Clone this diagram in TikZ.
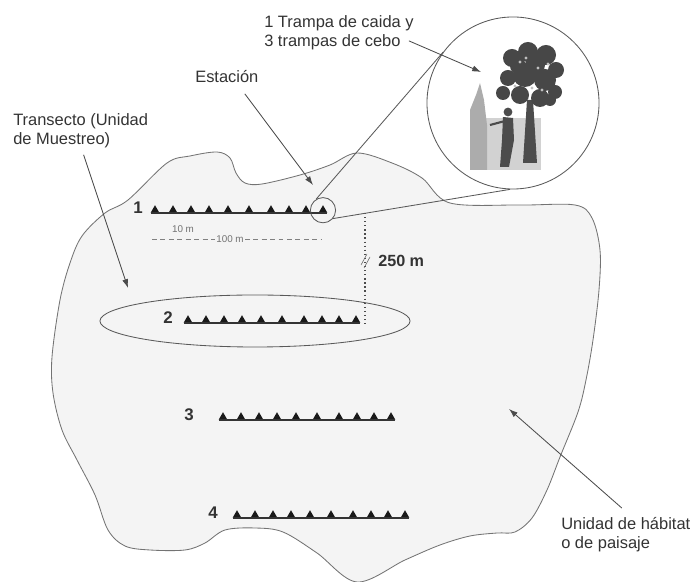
\documentclass[tikz,border=0pt]{standalone}
\usepackage{fontspec}
\setmainfont{Liberation Sans}
\usetikzlibrary{calc, arrows.meta, shapes.geometric}
\tikzstyle{txt} = [inner sep=0pt, anchor=north west, align=left, text=black!80, font=\fontsize{11.7}{13.5}\selectfont]
\tikzstyle{arr} = [draw=black!70, line width=0.6pt, -{Latex[length=2.2mm, width=1.5mm]}]
\tikzstyle{trap} = [regular polygon, regular polygon sides=3, fill=black!90, inner sep=0pt, minimum size=2.5mm, anchor=side 2]
\tikzstyle{num} = [inner sep=0pt, anchor=base east, text=black!80, font=\fontsize{12}{14}\selectfont\bfseries]
\tikzstyle{ring} = [draw=black!65, line width=0.6pt, circle, inner sep=0pt]
\tikzstyle{medida} = [inner sep=1pt, text=black!55, font=\fontsize{7}{8}\selectfont]

\begin{document}
\begin{tikzpicture}[x=0.025cm, y=-0.025cm]
    \useasboundingbox (0,0) rectangle (693,582);

    % habitat patch
    \filldraw[fill=gray!9, draw=black!55, line width=0.6pt] plot[smooth cycle, tension=0.55] coordinates {
        (128,200) (167,163) (190,156) (217,152) (230,158) (236,173) (245,183) (262,184)
        (300,175) (330,165) (357,153) (392,163) (422,178) (450,203) (520,205) (575,205)
        (592,218) (600,250) (599,290) (593,340) (586,380) (578,412) (560,457) (547,490)
        (532,518) (515,532) (497,533) (470,536) (440,545) (405,560) (357,582) (317,553)
        (283,532) (255,528) (225,530) (205,543) (185,550) (150,550) (125,546) (108,530)
        (95,495) (77,460) (62,430) (53,393) (52,357) (60,300) (70,263) (82,236) (105,213)};

    % transects and stations
    \foreach \n/\x/\y/\l in {1/155/213/143, 2/188/323/173, 3/223/420/194, 4/237/518/218} {
        \foreach \k/\d in {1/0, 2/18, 3/36, 4/54, 5/73, 6/94, 7/116, 8/134, 9/151, 10/168}
        \node[trap] (t\n-\k) at (\x+\d, \y) {};
        \draw[black!80, line width=0.8pt] ([xshift=-1mm]t\n-1.side 2) -- ([xshift=1mm]t\n-10.side 2);
        \node[num] (n\n) at (\l, \y+1) {\n};
    }

    \node[draw=black!65, line width=0.6pt, ellipse, minimum width=7.75cm, minimum height=1.3cm] (elipse) at (255,321) {};

    % distances
    \draw[black!50, dash pattern=on 3.5pt off 2.5pt] (152,239) -- (322,239);
    \node[medida, fill=gray!9] (d100) at (230,239) {100 m};
    \node[medida] (d10) at (183,229) {10 m};
    \draw[dotted, black!70, line width=0.9pt] (365,213) -- (365,325);
    \draw[black!60] (361,265) -- (367,254) (364,268) -- (370,257);
    \node[inner sep=0pt, anchor=west, text=black!80, font=\fontsize{11.5}{13}\selectfont\bfseries] (d250) at (378,261) {250 m};

    % zoom on one station
    \node[ring, minimum size=6.3mm] (lupa) at (t1-10.center) {};
    \node[ring, minimum size=4.3cm] (vista) at (513,103) {};
    \draw[black!65, line width=0.6pt] (lupa.122) -- (vista.144);
    \draw[black!65, line width=0.6pt] (lupa.-40) -- (vista.268);

    \begin{scope}
        \fill[gray!35] (470,118) rectangle (541,170);
        \fill[gray!65] (470,170) -- (470,110) -- (476,95) -- (480,83) -- (484,100) -- (487,125) -- (487,170) -- cycle;
        \fill[black!70] (527,100) -- (533,100) -- (537,163) -- (523,163) -- cycle;
        \foreach \cx/\cy/\r in {512/58/9, 528/52/10, 546/55/10, 556/70/8, 545/80/11, 525/75/12,
                                508/78/8, 503/93/7, 520/95/9, 540/98/9, 555/92/7, 535/65/10,
                                518/66/8, 550/100/6}
        \fill[black!72] (\cx,\cy) circle[radius=\r*0.25mm];
        \foreach \cx/\cy in {520/62, 538/68, 532/88, 548/64, 515/86, 542/90, 526/58}
        \fill[gray!50] (\cx,\cy) circle[radius=0.4mm];
        \fill[black!70] (508,112) circle[radius=1.1mm];
        \fill[black!70] (503,117) -- (513,118) -- (514,140) -- (509,167) -- (500,167) -- (502,140) -- cycle;
        \draw[black!70, line width=1.5pt] (505,121) -- (490,125);
    \end{scope}

    % labels
    \node[txt] (trampas) at (264,15) {1 Trampa de caida y\\3 trampas de cebo};
    \node[txt] (estacion) at (195,70) {Estación};
    \node[txt] (transecto) at (13,113) {Transecto (Unidad\\de Muestreo)};
    \node[txt] (habitat) at (561,517) {Unidad de hábitat\\o de paisaje};

    \coordinate (fotoTip) at (481,72);
    \coordinate (estTip) at (313,185);
    \coordinate (transTip) at (128,288);
    \coordinate (habTip) at (509,409);

    \draw[arr] ($(trampas.south east)+(-5,-9)$) -- (fotoTip);
    \draw[arr] ($(estacion.south)+(18,11)$) -- (estTip);
    \draw[arr] ($(transecto.south)+(3,7)$) -- (transTip);
    \draw[arr] ($(habitat.north)+(-4,-9)$) -- (habTip);
\end{tikzpicture}
\end{document}
